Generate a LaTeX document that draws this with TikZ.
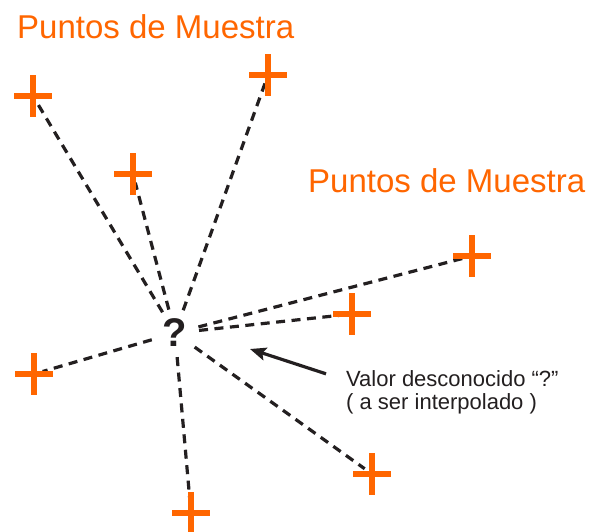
\documentclass[tikz,border=0pt]{standalone}
\usepackage{fontspec}
\setmainfont{Liberation Sans}
\usepackage{tikz}
\usetikzlibrary{arrows.meta,backgrounds}
\definecolor{muestra}{RGB}{255,102,0}
\definecolor{tinta}{RGB}{35,31,32}
\tikzset{>/.tip={Stealth[length=16pt,width=13pt,inset=3pt]}}
\tikzset{sample/.style={minimum width=38pt,minimum height=42pt,inner sep=0pt,
    path picture={\draw[muestra,line width=5.5pt]
      (path picture bounding box.north) -- (path picture bounding box.south)
      (path picture bounding box.west) -- (path picture bounding box.east);}}}
\tikzset{ray/.style={tinta,line width=3.2pt,dash pattern=on 9pt off 6.5pt,shorten >=9pt}}
\tikzset{title/.style={muestra,font=\fontsize{33}{33}\selectfont,anchor=base west,inner sep=0pt}}
\tikzset{note/.style={tinta,font=\fontsize{22}{23}\selectfont,align=left,anchor=base west,inner sep=0pt}}

\begin{document}
\begin{tikzpicture}[x=1pt,y=-1pt]
      \useasboundingbox (0,0) rectangle (592,531);
      \node[title](T1) at (17,38) {Puntos de Muestra};
      \node[title](T2) at (308,192) {Puntos de Muestra};

      \node[circle,minimum size=48pt,inner sep=0pt,font=\fontsize{40}{40}\selectfont\bfseries,tinta](q) at (175,333) {?};

      \node[sample](p1) at (33,96) {};
      \node[sample](p2) at (133,174) {};
      \node[sample](p3) at (268,75) {};
      \node[sample](p4) at (472,256) {};
      \node[sample](p5) at (352,314) {};
      \node[sample](p6) at (34,374) {};
      \node[sample](p7) at (372,474) {};
      \node[sample](p8) at (191,513) {};

      % base is the last line here
      \node[note](lbl) at (346,409) {Valor desconocido “?”\\( a ser interpolado )};
      \coordinate (tgt) at (250,349);

      \begin{scope}[on background layer]
        \fill[white] (0,0) rectangle (592,531);
        \foreach \p in {p1,p2,p3,p4,p5,p6,p7,p8}
          \draw[ray] (q) -- (\p.center);
      \end{scope}
      \draw[tinta,line width=3.2pt,->] ([shift={(-20pt,18pt)}]lbl.west) -- (tgt);
    \end{tikzpicture}
\end{document}
